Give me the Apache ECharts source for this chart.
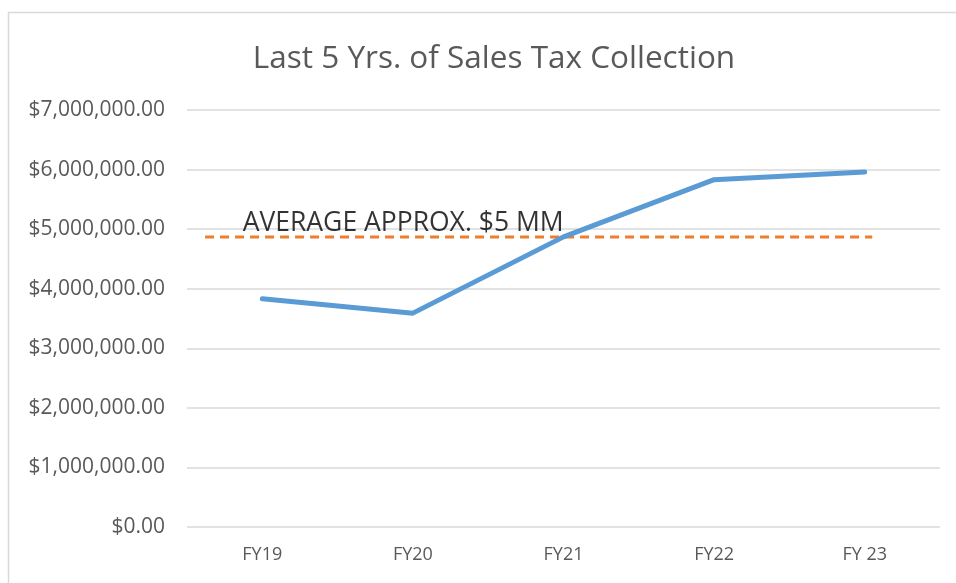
<!DOCTYPE html>
<html><head><meta charset="utf-8">
<script src="https://cdn.jsdelivr.net/npm/echarts@6/dist/echarts.min.js"></script>
<style>html,body{margin:0;padding:0;background:#fff}#c{width:956px;height:583px}</style>
</head><body><div id="c"></div>
<script>
const categories = ['FY19','FY20','FY21','FY22','FY 23'];
const salesTax = [3830000, 3590000, 4870000, 5830000, 5960000];
const averageValue = 4870000;
const averageSpan = [0.12, 4.55];
const averageLabel = 'AVERAGE APPROX. $5 MM';
const yTicks = {min: 0, max: 7000000, interval: 1000000};

const chart = echarts.init(document.getElementById('c'));
const font = '"Open Sans", sans-serif';
chart.setOption({
  animation: false,
  title: {text: 'Last 5 Yrs. of Sales Tax Collection', left: 489, top: 38, textAlign: 'center',
    textStyle: {fontFamily: font, fontSize: 31.5, fontWeight: 'normal', color: '#595959'}},
  graphic: [
    {type: 'rect', left: 6, top: 10, shape: {width: 960, height: 600}, style: {fill: 'none', stroke: '#d9d9d9', lineWidth: 1.5}, silent: true},
  ],
  grid: {left: 187, right: 16, top: 110, bottom: 56},
  xAxis: [
    {type: 'category', data: categories, boundaryGap: true,
     axisLine: {show: false}, axisTick: {show: false},
     axisLabel: {fontFamily: font, fontSize: 18, color: '#595959', margin: 19}},
    {type: 'value', min: 0, max: 5, show: false}
  ],
  yAxis: {type: 'value', min: yTicks.min, max: yTicks.max, interval: yTicks.interval,
    axisLine: {show: false}, axisTick: {show: false},
    splitLine: {lineStyle: {color: '#d9d9d9', width: 1.5}},
    axisLabel: {fontFamily: font, fontSize: 21, color: '#595959', margin: 22,
      formatter: v => '$' + v.toLocaleString('en-US', {minimumFractionDigits: 2, maximumFractionDigits: 2})}},
  series: [
    {type: 'line', xAxisIndex: 1, data: averageSpan.map(x => [x, averageValue]), symbol: 'none',
     lineStyle: {color: '#ED7D31', width: 3, type: [9, 6]}},
    {type: 'line', xAxisIndex: 0, data: salesTax, symbol: 'none',
     lineStyle: {color: '#5B9BD5', width: 5, cap: 'round', join: 'round'}},
    {type: 'scatter', xAxisIndex: 1, data: [[averageSpan[0] + 0.25, averageValue]], symbolSize: 0,
     label: {show: true, position: 'top', align: 'left', distance: 0, formatter: averageLabel,
       fontFamily: font, fontSize: 26.5, color: '#000'}}
  ]
});
</script></body></html>
